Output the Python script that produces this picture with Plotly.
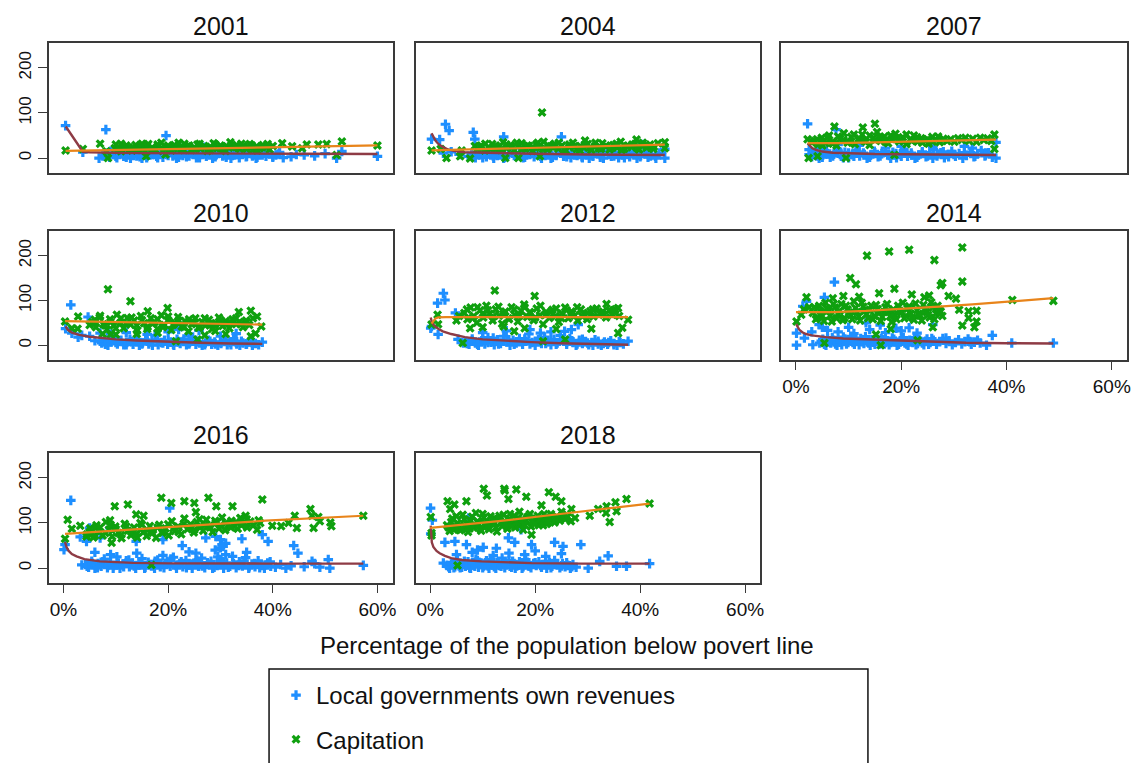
import plotly.graph_objects as go

# ---------------------------------------------------------------------------
# Data: x = % of population below poverty line, y = per-capita amount
# ---------------------------------------------------------------------------
years = [2001, 2004, 2007, 2010, 2012, 2014, 2016, 2018]

rev_2001 = [(0.4, 72), (3.7, 13), (6.8, 0), (8.1, 63), (19.6, 50), (8.5, 12),
            (7.5, 5), (8.8, 2), (9.6, 8), (10.2, 1), (10.9, 12), (11.5, 4), (12.1, 9), (12.8, 0),
            (13.4, 6), (14.0, 14), (14.6, 3), (15.3, 10), (15.9, 1), (16.5, 7), (17.2, 16), (17.8, 4),
            (18.4, 11), (19.0, 2), (19.7, 8), (20.3, 18), (20.9, 5), (21.6, 0), (22.2, 12), (22.8, 6),
            (23.5, 3), (24.1, 15), (24.7, 9), (25.4, 1), (26.0, 7), (26.6, 20), (27.3, 4), (27.9, 11),
            (28.5, 0), (29.2, 8), (29.8, 17), (30.4, 5), (31.1, 2), (31.7, 10), (32.3, 6), (33.0, 14),
            (33.6, 1), (34.2, 9), (34.9, 3), (35.5, 12), (36.1, 5), (36.8, 0), (37.4, 8), (38.0, 15),
            (38.7, 4), (39.3, 10), (40.0, 2), (40.6, 7), (41.3, 13), (42.0, 1),
            (8, 8), (9, 15), (10, 4), (11, 18), (12, 2), (13, 11), (14, 5), (15, 0), (16, 13), (17, 8),
            (18, 1), (19, 14), (20, 6), (21, 10), (22, 2), (23, 17), (24, 5), (25, 12), (26, 1), (27, 9),
            (28, 14), (29, 3), (30, 11), (31, 6), (32, 0), (33, 8), (34, 16), (35, 4), (36, 10), (37, 2),
            (38, 7), (39, 13), (40, 4), (41, 9),
            (15, 25), (22, 28), (27, 24), (33, 22),
            (43.5, 3), (44.5, 8), (46, 7), (48, 5), (50, 10), (52.2, 0), (53.2, 15), (60, 4)]
cap_2001 = [(0.4, 17), (3.7, 20), (7, 32), (8.2, 15), (8.5, 0), (11, 32), (15.8, 4), (19.5, 8),
            (9.8, 22), (10.4, 18), (11.3, 27), (11.9, 20), (12.5, 24), (13.1, 17), (13.8, 29), (14.4, 21),
            (15.0, 25), (15.6, 16), (16.2, 31), (16.9, 23), (17.5, 19), (18.1, 27), (18.7, 34), (19.4, 21),
            (20.0, 25), (20.6, 17), (21.2, 29), (21.9, 23), (22.5, 20), (23.1, 32), (23.7, 26), (24.4, 18),
            (25.0, 24), (25.6, 30), (26.2, 21), (26.9, 27), (27.5, 16), (28.1, 25), (28.7, 33), (29.4, 22),
            (30.0, 28), (30.6, 19), (31.2, 26), (31.9, 35), (32.5, 23), (33.1, 29), (33.7, 20), (34.4, 27),
            (35.0, 24), (35.6, 31), (36.2, 18), (36.9, 26), (37.5, 22), (38.1, 29), (38.7, 25), (39.4, 19),
            (40.0, 27),
            (10, 30), (11, 15), (12, 28), (13, 22), (14, 18), (15, 32), (16, 26), (17, 20), (18, 30),
            (19, 16), (20, 28), (21, 22), (22, 34), (23, 18), (24, 28), (25, 20), (26, 32), (27, 24),
            (28, 18), (29, 30), (30, 22), (31, 16), (32, 28), (33, 24), (34, 32), (35, 20), (36, 28),
            (37, 17), (38, 24), (39, 31),
            (41.8, 33), (43.7, 26), (45.6, 22), (46.5, 30), (48.7, 30), (50.3, 31), (52.2, 7), (53.2, 37),
            (60, 28)]
rev_fit_2001 = [(0.44, 70), (3.7, 14), (5, 13), (7, 12), (10, 11.5), (15, 11), (20, 10.5), (30, 10),
                (45, 9.5), (60, 9)]
cap_fit_2001 = [(0.4, 16), (10, 18), (20, 20.5), (30, 22.5), (40, 24.5), (50, 26.5), (60, 28)]

rev_2004 = [(0.25, 42), (1.8, 41), (2.9, 75), (3.6, 61), (2.5, 11), (8.2, 57), (8.5, 42), (14, 47),
            (25, 47), (44.7, 0), (44.7, 20), (5.5, 8), (4, 14),
            (7.2, 4), (7.9, 10), (8.6, 1), (9.3, 7), (10.0, 13), (10.7, 3), (11.4, 9), (12.1, 0),
            (12.8, 6), (13.5, 12), (14.2, 2), (14.9, 8), (15.6, 15), (16.3, 4), (17.0, 10), (17.7, 1),
            (18.4, 7), (19.1, 13), (19.8, 3), (20.5, 9), (21.2, 0), (21.9, 6), (22.6, 12), (23.3, 2),
            (24.0, 8), (24.7, 14), (25.4, 4), (26.1, 10), (26.8, 1), (27.5, 7), (28.2, 13), (28.9, 3),
            (29.6, 9), (30.3, 0), (31.0, 6), (31.7, 12), (32.4, 2), (33.1, 8), (33.8, 15), (34.5, 4),
            (35.2, 10), (35.9, 1), (36.6, 7), (37.3, 13), (38.0, 3), (38.7, 9), (39.4, 0), (40.1, 6),
            (40.8, 12), (41.5, 2), (42.2, 8), (42.9, 4), (43.6, 11),
            (8, 6), (9, 12), (10, 1), (11, 9), (12, 5), (13, 14), (14, 0), (15, 10), (16, 6), (17, 12),
            (18, 2), (19, 8), (20, 15), (21, 4), (22, 10), (23, 0), (24, 6), (25, 11), (26, 3), (27, 14),
            (28, 6), (29, 1), (30, 10), (31, 4), (32, 13), (33, 0), (34, 8), (35, 5), (36, 12), (37, 1),
            (38, 7), (39, 14), (40, 3), (41, 10), (42, 5), (43, 0),
            (12, 24), (18, 22), (29, 26), (38, 25), (40.5, 30)]
cap_2004 = [(0.25, 17), (3.1, 0), (5.7, 4), (7.6, -1), (8.5, 27), (14.3, 0), (16.8, 0), (21.3, 101),
            (20.9, 4), (39.3, 41), (44.7, 35), (44.7, 22), (43.4, 33), (29.5, 39), (2, 20), (6, 17),
            (9.0, 20), (9.7, 28), (10.4, 17), (11.1, 24), (11.8, 31), (12.5, 19), (13.2, 26), (13.9, 35),
            (14.6, 22), (15.3, 29), (16.0, 18), (16.7, 25), (17.4, 33), (18.1, 21), (18.8, 27), (19.5, 16),
            (20.2, 30), (20.9, 23), (21.6, 36), (22.3, 19), (23.0, 26), (23.7, 32), (24.4, 21), (25.1, 28),
            (25.8, 17), (26.5, 24), (27.2, 34), (27.9, 20), (28.6, 27), (29.3, 23), (30.0, 31), (30.7, 18),
            (31.4, 26), (32.1, 22), (32.8, 33), (33.5, 25), (34.2, 19), (34.9, 29), (35.6, 23), (36.3, 36),
            (37.0, 21), (37.7, 28), (38.4, 24), (39.1, 32), (39.8, 19), (40.5, 27), (41.2, 23), (41.9, 30),
            (42.6, 25),
            (9.5, 24), (10.5, 32), (11.5, 20), (12.5, 28), (13.5, 18), (14.5, 30), (15.5, 24), (16.5, 34),
            (17.5, 20), (18.5, 28), (19.5, 24), (20.5, 34), (21.5, 20), (22.5, 28), (23.5, 24), (24.5, 34),
            (25.5, 20), (26.5, 30), (27.5, 26), (28.5, 18), (29.5, 30), (30.5, 24), (31.5, 34), (32.5, 20),
            (33.5, 28), (34.5, 24), (35.5, 32), (36.5, 18), (37.5, 26), (38.5, 30), (39.5, 22), (40.5, 34),
            (41.5, 26), (42.5, 20)]
rev_fit_2004 = [(0.25, 55), (0.6, 46), (1, 39), (1.5, 32), (2.2, 26), (3.4, 19), (5, 15), (6.6, 13),
                (10, 12), (15, 10.5), (20, 9.5), (30, 8), (44.7, 7)]
cap_fit_2004 = [(0.25, 17), (10, 20), (20, 23), (30, 26), (44.7, 30)]

rev_2007 = [(2.2, 76), (7.6, 63), (2.5, 19), (32, 26), (33.5, 22), (38, 35), (38, 0), (36, 11),
            (2.5, 8), (4, 5), (5, 22),
            (3.0, 3), (3.7, 12), (4.4, 0), (5.1, 7), (5.8, 16), (6.5, 2), (7.2, 9), (7.9, 20), (8.6, 4),
            (9.3, 13), (10.0, 1), (10.7, 8), (11.4, 18), (12.1, 5), (12.8, 11), (13.5, 0), (14.2, 7),
            (14.9, 15), (15.6, 3), (16.3, 10), (17.0, 22), (17.7, 6), (18.4, 13), (19.1, 1), (19.8, 9),
            (20.5, 17), (21.2, 4), (21.9, 11), (22.6, 0), (23.3, 7), (24.0, 14), (24.7, 3), (25.4, 10),
            (26.1, 19), (26.8, 5), (27.5, 12), (28.2, 1), (28.9, 8), (29.6, 15), (30.3, 4), (31.0, 10),
            (31.7, 0), (32.4, 6), (33.1, 13), (33.8, 3), (34.5, 9), (35.2, 17), (35.9, 5), (36.6, 12),
            (37.3, 2),
            (3.3, 8), (4, 15), (5, 2), (6, 10), (7, 5), (8, 16), (9, 1), (10, 11), (11, 4), (12, 14),
            (13, 8), (14, 2), (15, 12), (16, 5), (17, 15), (18, 0), (19, 10), (20, 4), (21, 13), (22, 7),
            (23, 2), (24, 11), (25, 5), (26, 0), (27, 9), (28, 14), (29, 3), (30, 8), (32, 12), (34, 4),
            (36, 7),
            (8, 30), (12, 28), (20, 26), (26, 24)]
cap_2007 = [(2.2, 42), (2.4, 0), (4.1, 4), (7.3, 70), (9.5, 0), (12.7, 68), (15, 76), (18.7, 7),
            (29.4, 42), (37.7, 52), (37.7, 20), (3, 35), (5, 28),
            (3.5, 38), (4.2, 30), (4.9, 45), (5.6, 33), (6.3, 50), (7.0, 37), (7.7, 28), (8.4, 43),
            (9.1, 55), (9.8, 34), (10.5, 47), (11.2, 31), (11.9, 40), (12.6, 52), (13.3, 36), (14.0, 29),
            (14.7, 45), (15.4, 58), (16.1, 38), (16.8, 48), (17.5, 33), (18.2, 42), (18.9, 54), (19.6, 37),
            (20.3, 46), (21.0, 31), (21.7, 41), (22.4, 50), (23.1, 36), (23.8, 44), (24.5, 39), (25.2, 32),
            (25.9, 47), (26.6, 40), (27.3, 35), (28.0, 43), (28.7, 38), (30.1, 36), (30.8, 44), (31.5, 40),
            (32.2, 45), (32.9, 38), (33.6, 43), (34.3, 36), (35.0, 45), (35.7, 40), (36.4, 44), (37.1, 38),
            (4, 42), (5, 36), (6, 46), (7, 32), (8, 48), (9, 40), (10, 36), (11, 52), (12, 44), (13, 38),
            (14, 50), (15, 40), (16, 46), (17, 36), (18, 50), (19, 44), (20, 40), (21, 52), (22, 38),
            (23, 46), (24, 34), (25, 42), (26, 36), (27, 48), (28, 40)]
rev_fit_2007 = [(2.2, 33), (2.6, 27), (3.1, 22), (3.8, 18), (5, 14.5), (7, 12), (10, 10.5), (15, 9),
                (20, 8.5), (30, 7.5), (38, 7)]
cap_fit_2007 = [(2.2, 33), (8, 33), (15, 35), (22, 37), (30, 39), (38, 41)]

rev_2010 = [(0.4, 37), (1.4, 90), (1.6, 27), (2.8, 18), (4.7, 63), (5, 20), (7, 27), (25.9, 33),
            (38, 7), (3.5, 22), (6, 10),
            (7.3, 5), (7.9, 12), (8.5, 0), (9.1, 8), (9.7, 15), (10.3, 3), (10.9, 10), (11.5, 1),
            (12.1, 6), (12.7, 13), (13.3, 2), (13.9, 9), (14.5, 0), (15.1, 5), (15.7, 12), (16.3, 3),
            (16.9, 8), (17.5, 22), (18.1, 1), (18.7, 6), (19.3, 11), (19.9, 2), (20.5, 7), (21.1, 0),
            (21.7, 13), (22.3, 4), (22.9, 9), (23.5, 1), (24.1, 6), (24.7, 18), (25.3, 2), (25.9, 8),
            (26.5, 0), (27.1, 5), (27.7, 11), (28.3, 2), (28.9, 7), (29.5, 0), (30.1, 4), (30.7, 9),
            (31.3, 1), (31.9, 6), (32.5, 15), (33.1, 3), (33.7, 0), (34.3, 5), (34.9, 2), (35.5, 8),
            (36.1, 0), (36.7, 4), (37.3, 1),
            (7, 9), (8, 2), (9, 14), (10, 6), (11, 11), (12, 1), (13, 8), (14, 13), (15, 3), (16, 9),
            (17, 0), (18, 12), (19, 5), (20, 10), (21, 2), (22, 8), (23, 14), (24, 3), (25, 10), (26, 5),
            (27, 1), (28, 9), (29, 3), (30, 7), (31, 12), (32, 1), (33, 6), (34, 9), (35, 3), (36, 6),
            (9, 25), (12, 28), (16, 24), (20, 30), (24, 22), (30, 20), (33, 26), (22, 35)]
cap_2010 = [(0.3, 53), (2.8, 64), (1.6, 38), (2.7, 37), (8.5, 125), (12.8, 98), (19.9, 83), (16.1, 76),
            (21.5, 9), (25.6, 13), (31, 25), (35.8, 20), (36.7, 26), (35.8, 77), (33.5, 74), (37.8, 42),
            (37, 64), (5, 45), (6, 57), (7.5, 25), (9, 24), (10, 24),
            (5.5, 52), (6.2, 40), (6.9, 62), (7.6, 47), (8.3, 35), (8.9, 58), (9.6, 44), (10.2, 68),
            (10.9, 50), (11.5, 38), (12.2, 61), (12.8, 46), (13.5, 55), (14.1, 33), (14.8, 65), (15.4, 49),
            (16.1, 41), (16.7, 60), (17.4, 52), (18.0, 37), (18.7, 67), (19.3, 45), (20.0, 56), (20.6, 34),
            (21.3, 50), (21.9, 63), (22.6, 42), (23.2, 54), (23.9, 31), (24.5, 47), (25.2, 60), (25.8, 39),
            (26.5, 52), (27.1, 44), (27.8, 57), (28.4, 36), (29.1, 49), (29.7, 62), (30.4, 43), (31.0, 54),
            (31.7, 38), (32.3, 58), (33.0, 47), (33.6, 52), (34.3, 40), (34.9, 55), (35.5, 45), (36.2, 60),
            (6, 50), (7, 66), (8, 44), (9, 52), (10, 38), (11, 60), (12, 48), (13, 62), (14, 44), (15, 56),
            (16, 36), (17, 48), (18, 58), (19, 40), (20, 64), (21, 46), (22, 55), (23, 40), (24, 58),
            (25, 50), (26, 40), (27, 60), (28, 48), (29, 42), (30, 56), (31, 47), (32, 50), (33, 60),
            (34, 48), (35, 52),
            (14, 25), (18, 28), (27, 22), (29, 32)]
rev_fit_2010 = [(0.4, 42), (0.8, 35), (1.6, 28), (3, 23), (5, 19), (7, 16), (10, 13), (14, 10.5),
                (18, 8.5), (22, 7), (26, 5.5), (32, 4), (38, 3)]
cap_fit_2010 = [(0.3, 54), (10, 52), (20, 50), (30, 48), (38, 46)]

rev_2012 = [(0.25, 42), (1.4, 94), (2.5, 116), (2.8, 101), (1.5, 24), (4.8, 72), (5.3, 13), (6.3, 5),
            (25.6, 31), (26.9, 35), (28.2, 46), (37.7, 9), (0.1, 38),
            (6.8, 8), (7.4, 2), (8.0, 14), (8.6, 5), (9.2, 0), (9.8, 10), (10.4, 3), (11.0, 17), (11.6, 7),
            (12.2, 1), (12.8, 12), (13.4, 4), (14.0, 20), (14.6, 8), (15.2, 0), (15.8, 11), (16.4, 5),
            (17.0, 15), (17.6, 2), (18.2, 9), (18.8, 25), (19.4, 6), (20.0, 0), (20.6, 12), (21.2, 4),
            (21.8, 18), (22.4, 8), (23.0, 1), (23.6, 13), (24.2, 5), (24.8, 22), (25.4, 9), (26.0, 2),
            (26.6, 15), (27.2, 6), (27.8, 0), (28.4, 11), (29.0, 4), (29.6, 8), (30.2, 1), (30.8, 6),
            (31.4, 12), (32.0, 3), (32.6, 0), (33.2, 7), (33.8, 2), (34.4, 10), (35.0, 4), (35.6, 0),
            (36.2, 6), (36.8, 3),
            (7, 4), (8, 10), (9, 2), (10, 14), (11, 6), (12, 16), (13, 3), (14, 9), (15, 12), (16, 2),
            (17, 8), (18, 14), (19, 3), (20, 9), (21, 15), (22, 4), (23, 10), (24, 2), (25, 12), (26, 6),
            (27, 10), (28, 3), (29, 13), (30, 5), (31, 0), (32, 9), (33, 4), (34, 6), (35, 1), (36, 8),
            (10, 28), (14.5, 32), (19, 35), (23, 30), (21, 27)]
cap_2012 = [(0.25, 46), (1.4, 68), (1.5, 47), (6.2, 5), (12.3, 122), (19.9, 110), (7.6, 38), (16, 31),
            (21.5, 9), (25.7, 13), (30.7, 37), (35.8, 27), (36.6, 39), (37.7, 57), (33.6, 92), (35.8, 83),
            (5, 55), (5.5, 65),
            (6.5, 72), (7.1, 58), (7.7, 84), (8.3, 65), (8.9, 50), (9.5, 78), (10.1, 62), (10.7, 88),
            (11.3, 70), (11.9, 55), (12.5, 80), (13.1, 66), (13.7, 48), (14.3, 75), (14.9, 60), (15.5, 85),
            (16.1, 68), (16.7, 53), (17.3, 77), (17.9, 91), (18.5, 63), (19.1, 72), (19.7, 56), (20.3, 82),
            (20.9, 67), (21.5, 47), (22.1, 74), (22.7, 61), (23.3, 79), (23.9, 65), (24.5, 52), (25.1, 71),
            (25.7, 84), (26.3, 60), (26.9, 75), (27.5, 66), (28.1, 55), (28.7, 80), (29.3, 69), (29.9, 58),
            (30.5, 76), (31.1, 64), (31.7, 82), (32.3, 70), (32.9, 75), (33.5, 62), (34.1, 78), (34.7, 68),
            (35.3, 80), (36.0, 65),
            (7, 80), (8, 60), (9, 85), (10, 70), (11, 78), (12, 64), (13, 86), (14, 70), (15, 58), (16, 80),
            (17, 66), (18, 84), (19, 74), (20, 62), (21, 88), (22, 68), (23, 74), (24, 82), (25, 60),
            (26, 78), (27, 70), (28, 85), (29, 64), (30, 72), (31, 80), (33, 68), (35, 74),
            (10, 40), (14, 42), (18, 38), (24, 36)]
rev_fit_2012 = [(0.1, 62), (0.3, 52), (0.6, 46), (1, 41), (1.6, 36), (2.4, 31), (4, 25), (6.6, 18),
                (10, 13), (14, 10), (19.3, 7), (25, 4.5), (31, 2.5), (37.7, 1)]
cap_fit_2012 = [(0.25, 48), (0.6, 55), (1, 60), (1.5, 62), (3, 62.5), (10, 62.5), (20, 62.5),
                (30, 62.5), (37.7, 62.5)]

rev_2014 = [(0.1, 27), (0.1, 0), (1.3, 87), (2, 98), (7.3, 141), (5.4, 107), (3.2, 1), (1.6, 16),
            (4.4, 46), (13.3, 50), (21.5, 39), (26.9, 76), (26, 46), (28.5, 16), (37.3, 22), (41, 5),
            (48.9, 5), (33, 8), (35, 5), (36.2, 0), (3, 30), (5, 40), (6, 33),
            (4.5, 5), (5.1, 13), (5.7, 0), (6.3, 8), (6.9, 17), (7.5, 3), (8.1, 10), (8.7, 1), (9.3, 14),
            (9.9, 6), (10.5, 20), (11.1, 2), (11.7, 9), (12.3, 15), (12.9, 4), (13.5, 11), (14.1, 0),
            (14.7, 7), (15.3, 18), (15.9, 3), (16.5, 12), (17.1, 6), (17.7, 1), (18.3, 16), (18.9, 8),
            (19.5, 2), (20.1, 13), (20.7, 5), (21.3, 0), (21.9, 10), (22.5, 17), (23.1, 4), (23.7, 9),
            (24.3, 1), (24.9, 14), (25.5, 6), (26.1, 11), (26.7, 2), (27.3, 8), (27.9, 15), (28.5, 4),
            (29.1, 10), (29.7, 1), (30.3, 6), (30.9, 12), (31.5, 3), (32.1, 8), (32.7, 14), (33.3, 2),
            (33.9, 7), (34.5, 11),
            (4.8, 9), (5.4, 2), (6.0, 14), (6.6, 5), (7.2, 11), (7.8, 0), (8.4, 7), (9.0, 18), (9.6, 3),
            (10.2, 12), (10.8, 6), (11.4, 15), (12.0, 1), (12.6, 8), (13.2, 19), (13.8, 5), (14.4, 12),
            (15.0, 2), (15.6, 9), (16.2, 15), (16.8, 3), (17.4, 10), (18.0, 6), (18.6, 13), (19.2, 0),
            (19.8, 8), (20.4, 17), (21.0, 3), (21.6, 11), (22.2, 6), (22.8, 1), (23.4, 13), (24.0, 5),
            (24.6, 9), (25.2, 2), (25.8, 15),
            (8, 30), (11, 26), (14, 35), (17, 28), (20, 32), (23, 27), (16, 45), (19, 38), (10, 40)]
cap_2014 = [(0.1, 53), (1, 68), (2, 107), (10.3, 150), (11.4, 136), (13.5, 200), (17.7, 209),
            (21.5, 213), (26.3, 190), (31.6, 218), (31.6, 142), (27.8, 139), (27.5, 134), (29, 110),
            (15.8, 116), (18.7, 126), (22, 113), (24.4, 107), (25.3, 111), (30.4, 104), (31, 79),
            (31.6, 44), (32.8, 76), (34.3, 77), (32.8, 61), (34.3, 53), (33.9, 40), (26, 40), (23.1, 11),
            (16.1, 0), (5.4, 5), (18, 36), (15.2, 24), (41.1, 101), (48.9, 99), (1.5, 80), (2.5, 85),
            (7, 105), (12, 108), (9, 110),
            (3.2, 72), (3.8, 58), (4.4, 88), (5.0, 65), (5.6, 95), (6.2, 78), (6.8, 53), (7.4, 84),
            (8.0, 70), (8.6, 92), (9.2, 61), (9.8, 80), (10.4, 67), (11.0, 98), (11.6, 74), (12.2, 55),
            (12.8, 86), (13.4, 69), (14.0, 79), (14.6, 58), (15.2, 90), (15.8, 72), (16.4, 63), (17.0, 85),
            (17.6, 76), (18.2, 52), (18.8, 68), (19.4, 88), (20.0, 73), (20.6, 60), (21.2, 82), (21.8, 70),
            (22.4, 57), (23.0, 78), (23.6, 66), (24.2, 90), (24.8, 74), (25.4, 62), (26.0, 84), (26.6, 71),
            (27.2, 79), (27.8, 65),
            (3.5, 85), (4.1, 62), (4.7, 76), (5.3, 54), (5.9, 82), (6.5, 66), (7.1, 92), (7.7, 60),
            (8.3, 77), (8.9, 56), (9.5, 88), (10.1, 73), (10.7, 58), (11.3, 83), (11.9, 64), (12.5, 95),
            (13.1, 77), (13.7, 60), (14.3, 88), (14.9, 66), (15.5, 81), (16.1, 54), (16.7, 74), (17.3, 92),
            (17.9, 64), (18.5, 80), (19.1, 58), (19.7, 77), (20.3, 95), (20.9, 66), (21.5, 87), (22.1, 62),
            (22.7, 93), (23.3, 70), (23.9, 55), (24.5, 80), (25.1, 68), (25.7, 96), (26.3, 58), (26.9, 88),
            (27.5, 75)]
rev_fit_2014 = [(0.05, 47), (0.3, 40), (0.6, 35), (1.2, 29), (1.9, 25), (3, 22), (5.7, 18), (9, 15),
                (13.3, 13), (18, 11), (22.8, 9), (28, 7), (32.3, 5.5), (40, 4.5), (48.9, 4)]
cap_fit_2014 = [(0, 74), (7, 74), (13.3, 76.5), (20.9, 81), (27.2, 86), (33.5, 91), (41, 98),
                (48.9, 105)]

rev_2016 = [(0.1, 41), (0.3, 52), (1.4, 150), (3.2, 69), (3.5, 7), (4.4, 59), (5, 89), (7, 67),
            (8.9, 89), (13.9, 59), (19, 63), (20.3, 133), (22.7, 50), (25.3, 33), (27.2, 67), (29.1, 70),
            (30, 63), (30.3, 52), (32.3, 26), (34.1, 65), (38, 74), (39.1, 59), (44, 50), (44.8, 33),
            (47.5, 15), (50.6, 19), (50.9, 0), (57.3, 6),
            (4.2, 8), (4.8, 2), (5.4, 15), (6.0, 0), (6.6, 10), (7.2, 4), (7.8, 20), (8.4, 1), (9.0, 12),
            (9.6, 6), (10.2, 25), (10.8, 0), (11.4, 9), (12.0, 16), (12.6, 3), (13.2, 11), (13.8, 0),
            (14.4, 7), (15.0, 21), (15.6, 2), (16.2, 13), (16.8, 5), (17.4, 0), (18.0, 18), (18.6, 8),
            (19.2, 1), (19.8, 14), (20.4, 4), (21.0, 24), (21.6, 0), (22.2, 10), (22.8, 3), (23.4, 17),
            (24.0, 7), (24.6, 0), (25.2, 12), (25.8, 4), (26.4, 22), (27.0, 1), (27.6, 9), (28.2, 15),
            (28.8, 2), (29.4, 6), (30.0, 19), (30.6, 0), (31.2, 11), (31.8, 4), (32.4, 8), (33.0, 1),
            (33.6, 14), (34.2, 5), (34.8, 23), (35.4, 0), (36.0, 9), (36.6, 3), (37.2, 16), (37.8, 6),
            (38.4, 0), (39.0, 11), (39.6, 4), (40.5, 2), (41.5, 8), (42.5, 0), (43.5, 5), (46, 3),
            (48, 10), (49, 2),
            (4.5, 4), (5.5, 10), (6.5, 1), (7.5, 14), (8.5, 6), (9.5, 0), (10.5, 11), (11.5, 3), (12.5, 18),
            (13.5, 5), (14.5, 13), (15.5, 0), (16.5, 8), (17.5, 15), (18.5, 3), (19.5, 10), (20.5, 20),
            (21.5, 6), (22.5, 14), (23.5, 1), (24.5, 9), (25.5, 18), (26.5, 5), (27.5, 12), (28.5, 0),
            (29.5, 8), (30.5, 14), (31.5, 2), (32.5, 10), (33.5, 6), (34.5, 16), (35.5, 3), (36.5, 10),
            (37.5, 1), (38.5, 7), (39.5, 14),
            (6, 35), (9, 30), (14, 33), (19, 28), (24, 36), (29, 40), (30, 45), (31, 30), (35, 35),
            (29.5, 25), (31, 55), (30.5, 48)]
cap_2016 = [(0.3, 65), (0.8, 107), (1.6, 87), (3.2, 94), (4.4, 70), (6.3, 90), (8.9, 106), (9.8, 137),
            (9.2, 56), (12.3, 141), (13.9, 119), (15.3, 116), (18.7, 156), (20.6, 144), (23.1, 148),
            (25, 144), (27.7, 156), (25.3, 124), (29.2, 137), (32.3, 137), (38, 152), (33.8, 111),
            (34.8, 116), (37.3, 106), (39.9, 94), (41.6, 93), (43, 100), (44.2, 116), (44.6, 89),
            (47.2, 131), (47.5, 116), (47.8, 89), (48.7, 113), (49, 104), (51, 101), (51.2, 93),
            (57.3, 116), (16.8, 7),
            (4.5, 75), (5.1, 88), (5.7, 68), (6.3, 95), (6.9, 80), (7.5, 72), (8.1, 102), (8.7, 85),
            (9.3, 70), (9.9, 92), (10.5, 78), (11.1, 66), (11.7, 98), (12.3, 83), (12.9, 73), (13.5, 90),
            (14.1, 68), (14.7, 100), (15.3, 80), (15.9, 71), (16.5, 93), (17.1, 85), (17.7, 67), (18.3, 96),
            (18.9, 78), (19.5, 88), (20.1, 72), (20.7, 104), (21.3, 82), (21.9, 92), (22.5, 75), (23.1, 110),
            (23.7, 86), (24.3, 97), (24.9, 79), (25.5, 102), (26.1, 90), (26.7, 83), (27.3, 107), (27.9, 94),
            (28.5, 80), (29.1, 100), (29.7, 88), (30.3, 112), (30.9, 84), (31.5, 96), (32.1, 105),
            (32.7, 92), (33.3, 87), (33.9, 110), (34.5, 99), (35.1, 90), (35.7, 103), (36.3, 95), (37, 85),
            (37.6, 100),
            (5, 80), (6, 72), (7, 90), (8, 78), (9, 96), (10, 86), (11, 74), (12, 92), (13, 80), (14, 76),
            (15, 96), (16, 84), (17, 78), (18, 90), (19, 82), (20, 97), (21, 88), (22, 80), (23, 98),
            (24, 90), (25, 85), (26, 108), (27, 95), (28, 90), (29, 105), (30, 95), (31, 100), (32, 90),
            (33, 102), (34, 95), (35, 108)]
rev_fit_2016 = [(0.3, 58), (0.6, 46), (1, 38), (1.6, 31), (2.5, 26), (4, 20), (7, 15), (10, 13),
                (13.3, 11.5), (20, 10.5), (26, 10), (38.6, 10), (57.3, 10)]
cap_fit_2016 = [(0.3, 76), (13.3, 85), (26, 95), (38.6, 105), (57.3, 116)]

rev_2018 = [(0.06, 133), (0.1, 76), (0.4, 106), (2.8, 57), (2.5, 11), (4.7, 59), (6.9, 52), (7.3, 111),
            (10.1, 46), (12.6, 44), (14.9, 67), (16.1, 57), (17.3, 85), (19.3, 52), (23.7, 57), (25.3, 48),
            (28.7, 52), (33.9, 27), (32.3, 15), (35.5, 4), (37.4, 4), (41.8, 10), (30.1, 0),
            (3.2, 6), (3.7, 0), (4.2, 12), (4.7, 3), (5.2, 18), (5.7, 1), (6.2, 9), (6.7, 4), (7.2, 14),
            (7.7, 0), (8.2, 7), (8.7, 20), (9.2, 2), (9.7, 11), (10.2, 5), (10.7, 16), (11.2, 0), (11.7, 8),
            (12.2, 3), (12.7, 13), (13.2, 6), (13.7, 22), (14.2, 1), (14.7, 10), (15.2, 4), (15.7, 15),
            (16.2, 0), (16.7, 7), (17.2, 12), (17.7, 3), (18.2, 19), (18.7, 5), (19.2, 1), (19.7, 10),
            (20.2, 6), (20.7, 14), (21.2, 2), (21.7, 8), (22.2, 0), (22.7, 12), (23.2, 4), (23.7, 17),
            (24.2, 7), (24.7, 1), (25.2, 10), (25.7, 3), (26.2, 6), (26.7, 0), (27.2, 8), (27.8, 2),
            (3.5, 3), (4, 9), (4.5, 1), (5, 13), (5.5, 5), (6, 2), (6.5, 15), (7, 7), (7.5, 1), (8, 11),
            (8.5, 4), (9, 17), (9.5, 8), (10, 1), (10.5, 12), (11, 5), (11.5, 20), (12, 9), (12.5, 0),
            (13, 14), (13.5, 4), (14, 11), (14.5, 7), (15, 17), (15.5, 2), (16, 10), (16.5, 5), (17, 14),
            (17.5, 0), (18, 8), (18.5, 13), (19, 4), (20, 12), (21, 6), (22, 15), (23, 1), (24, 9),
            (25, 5), (26, 12), (27, 3),
            (5, 30), (8, 35), (12, 28), (15, 33), (18, 30), (20, 38), (22, 26), (25, 32), (9, 40)]
cap_2018 = [(0.1, 113), (0.25, 78), (0.25, 72), (3.3, 148), (3.8, 131), (4.6, 141), (6.9, 148),
            (10.2, 176), (10.8, 161), (14.1, 176), (14.2, 172), (14.9, 153), (16.4, 174), (18.3, 158),
            (22.6, 168), (23.9, 158), (25, 148), (21.2, 139), (26.9, 131), (27.6, 111), (30.4, 116),
            (32, 131), (33.6, 137), (33.5, 122), (35.3, 146), (35.5, 126), (37.4, 153), (34.2, 102),
            (41.8, 143), (19.3, 74), (5.2, 6),
            (3.2, 95), (3.7, 82), (4.2, 110), (4.7, 88), (5.2, 100), (5.7, 84), (6.2, 118), (6.7, 92),
            (7.2, 80), (7.7, 105), (8.2, 90), (8.7, 122), (9.2, 97), (9.7, 83), (10.2, 112), (10.7, 94),
            (11.2, 86), (11.7, 108), (12.2, 99), (12.7, 81), (13.2, 116), (13.7, 93), (14.2, 104),
            (14.7, 87), (15.2, 120), (15.7, 101), (16.2, 90), (16.7, 111), (17.2, 96), (17.7, 85),
            (18.2, 106), (18.7, 115), (19.2, 92), (19.7, 100), (20.2, 110), (20.7, 95), (21.2, 104),
            (21.7, 120), (22.2, 98), (22.7, 108), (23.2, 115), (23.7, 101), (24.2, 112), (24.7, 105),
            (25.2, 118), (25.7, 108), (26.2, 114), (26.8, 104),
            (3.5, 90), (4, 102), (4.5, 85), (5, 115), (5.5, 94), (6, 86), (6.5, 108), (7, 98), (7.5, 88),
            (8, 114), (8.5, 95), (9, 104), (9.5, 87), (10, 120), (10.5, 100), (11, 92), (11.5, 115),
            (12, 105), (12.5, 90), (13, 110), (13.5, 100), (14, 118), (14.5, 96), (15, 108), (15.5, 92),
            (16, 116), (16.5, 102), (17, 125), (17.5, 108), (18, 96), (18.5, 112), (19, 120), (19.5, 105),
            (20, 98), (20.5, 116), (21, 108), (21.5, 95), (22, 112), (22.5, 102), (23, 120), (24, 108),
            (25, 125), (26, 112)]
rev_fit_2018 = [(0.1, 94), (0.15, 70), (0.3, 57), (0.6, 47), (1.2, 38), (1.8, 33), (2.8, 27), (4, 22),
                (6, 18), (9.8, 15), (14, 12.5), (19.3, 11), (28.8, 10), (41.8, 10)]
cap_fit_2018 = [(0, 89), (13, 104), (25.6, 121), (41.8, 143)]

x_ticks = [0, 20, 40, 60]
y_ticks = [0, 100, 200]

panels = {
    2001: (rev_2001, cap_2001, rev_fit_2001, cap_fit_2001),
    2004: (rev_2004, cap_2004, rev_fit_2004, cap_fit_2004),
    2007: (rev_2007, cap_2007, rev_fit_2007, cap_fit_2007),
    2010: (rev_2010, cap_2010, rev_fit_2010, cap_fit_2010),
    2012: (rev_2012, cap_2012, rev_fit_2012, cap_fit_2012),
    2014: (rev_2014, cap_2014, rev_fit_2014, cap_fit_2014),
    2016: (rev_2016, cap_2016, rev_fit_2016, cap_fit_2016),
    2018: (rev_2018, cap_2018, rev_fit_2018, cap_fit_2018),
}

# ---------------------------------------------------------------------------
# Styling
# ---------------------------------------------------------------------------
W, H = 1139, 763
FONT = "Liberation Sans, Arial, sans-serif"
BLUE = "#1E8FFF"
GREEN = "#0FA00F"
ORANGE = "#E8841A"
BROWN = "#8E3B45"
FRAME = "#3a3a3a"

# plot boxes in pixels: (left, right) per column, (top, bottom) per row
col_px = [(49, 394), (417, 763), (784, 1131)]
row_px = [(43, 173), (231, 360), (453, 583)]
X_RANGE = [-2.8, 62.9]
Y_RANGE = [-33, 255]


def px_x(v):
    return v / W


def px_y(v):
    return 1 - v / H


fig = go.Figure()
layout = dict(
    width=W, height=H,
    margin=dict(l=0, r=0, t=0, b=0),
    paper_bgcolor="white", plot_bgcolor="white",
    font=dict(family=FONT, color="#111111"),
    showlegend=True,
)
annotations = []

n_panels = len(years)
for i, yr in enumerate(years):
    r, c = divmod(i, 3)
    k = "" if i == 0 else str(i + 1)
    xa, ya = "x" + k, "y" + k
    rev, cap, rev_fit, cap_fit = panels[yr]

    fig.add_trace(go.Scatter(
        x=[p[0] for p in rev], y=[p[1] for p in rev], mode="markers",
        marker=dict(symbol="cross", size=8, color=BLUE, line=dict(width=0)),
        name="Local governments own revenues", legendgroup="rev",
        showlegend=(i == 0), xaxis=xa, yaxis=ya, hoverinfo="skip"))
    fig.add_trace(go.Scatter(
        x=[p[0] for p in cap], y=[p[1] for p in cap], mode="markers",
        marker=dict(symbol="x", size=8, color=GREEN, line=dict(width=0)),
        name="Capitation", legendgroup="cap",
        showlegend=(i == 0), xaxis=xa, yaxis=ya, hoverinfo="skip"))
    fig.add_trace(go.Scatter(
        x=[p[0] for p in rev_fit], y=[p[1] for p in rev_fit], mode="lines",
        line=dict(color=BROWN, width=2.4), showlegend=False,
        xaxis=xa, yaxis=ya, hoverinfo="skip"))
    fig.add_trace(go.Scatter(
        x=[p[0] for p in cap_fit], y=[p[1] for p in cap_fit], mode="lines",
        line=dict(color=ORANGE, width=2.2), showlegend=False,
        xaxis=xa, yaxis=ya, hoverinfo="skip"))

    # x tick labels only where no panel sits below
    show_x = (i + 3) >= n_panels
    show_y = c == 0
    x0, x1 = col_px[c]
    y0, y1 = row_px[r]

    layout["xaxis" + k] = dict(
        domain=[px_x(x0), px_x(x1)], range=X_RANGE, anchor=ya,
        showgrid=False, zeroline=False, showline=True, mirror=True,
        linecolor=FRAME, linewidth=1.6,
        tickvals=x_ticks, ticktext=[f"{t}%" for t in x_ticks],
        ticks="outside" if show_x else "", ticklen=8, tickwidth=1.4, tickcolor=FRAME,
        showticklabels=show_x, tickfont=dict(size=19, family=FONT, color="#111111"),
    )
    layout["yaxis" + k] = dict(
        domain=[px_y(y1), px_y(y0)], range=Y_RANGE, anchor=xa,
        showgrid=False, zeroline=False, showline=True, mirror=True,
        linecolor=FRAME, linewidth=1.6,
        tickvals=y_ticks, ticks="outside" if show_y else "", ticklen=9,
        tickwidth=1.4, tickcolor=FRAME, tickangle=-90,
        showticklabels=show_y, tickfont=dict(size=17, family=FONT, color="#111111"),
    )
    title_y = 26 if r == 0 else y0 - 18
    annotations.append(dict(
        text=str(yr), x=px_x((x0 + x1) / 2), y=px_y(title_y), xref="paper", yref="paper",
        xanchor="center", yanchor="middle", showarrow=False,
        font=dict(size=25, family=FONT, color="#111111")))

annotations.append(dict(
    text="Percentage of the population below povert line",
    x=px_x(569), y=px_y(645), xref="paper", yref="paper",
    xanchor="center", yanchor="middle", showarrow=False,
    font=dict(size=24, family=FONT, color="#111111")))

layout["annotations"] = annotations
layout["shapes"] = [dict(
    type="rect", xref="paper", yref="paper",
    x0=px_x(270), x1=px_x(871), y0=px_y(669), y1=px_y(800),
    line=dict(color="#111111", width=1.5), fillcolor="rgba(0,0,0,0)")]
layout["legend"] = dict(
    x=px_x(277), y=px_y(673), xanchor="left", yanchor="top",
    bgcolor="rgba(0,0,0,0)", borderwidth=0,
    font=dict(size=24, family=FONT, color="#111111"),
    tracegroupgap=10, itemclick=False, itemdoubleclick=False)

fig.update_layout(**layout)
fig.write_html("out.html")
